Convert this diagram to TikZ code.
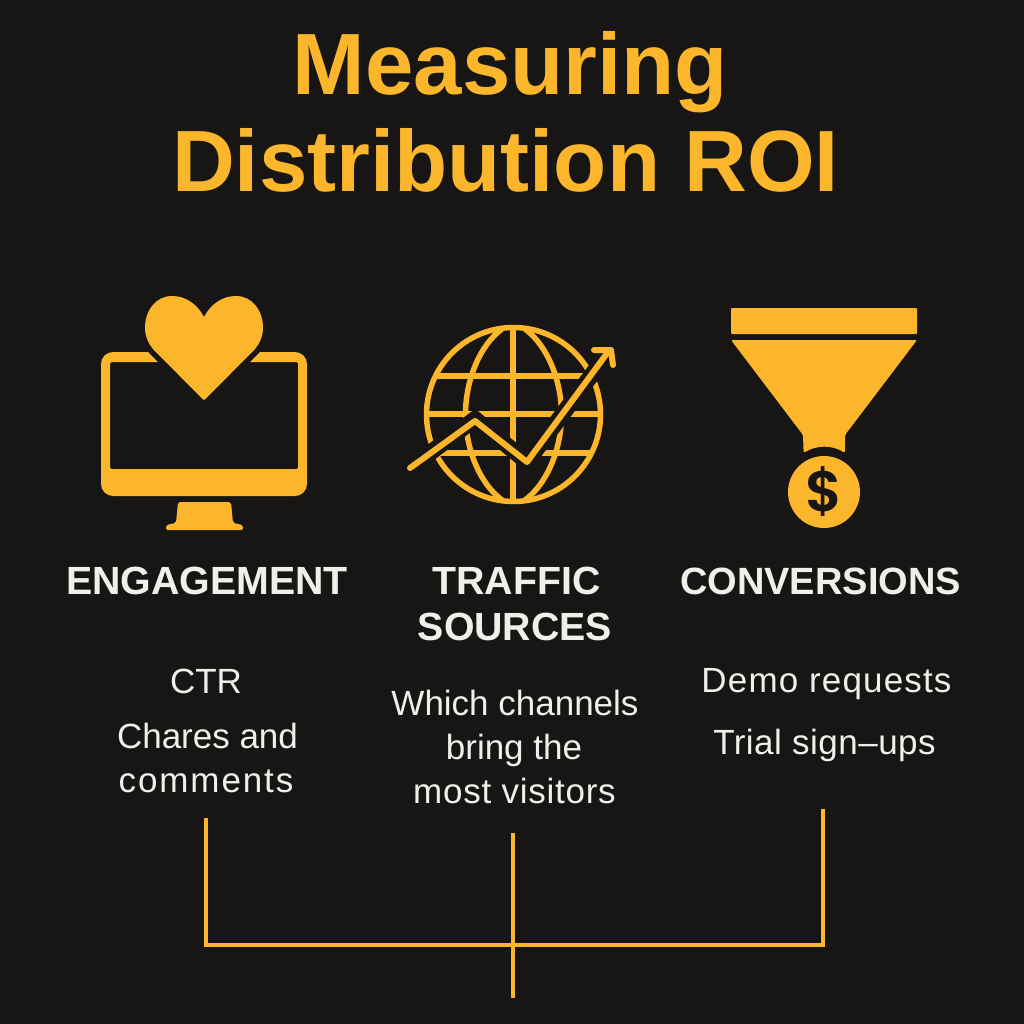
\documentclass[tikz,border=0pt]{standalone}
\usepackage{fontspec}
\setmainfont{Liberation Sans}
\newfontfamily\dollarf{Poppins SemiBold}
\definecolor{bgc}{HTML}{171614}
\definecolor{gold}{HTML}{FBB62B}
\definecolor{txt}{HTML}{F0EFEB}
\newcommand{\lsp}[2]{{\addfontfeature{LetterSpace=#1}#2}}
\tikzset{
 titletext/.style={text=gold,font=\bfseries\fontsize{87}{87}\selectfont,anchor=base,inner sep=0pt},
 headtext/.style={text=txt,font=\bfseries\fontsize{39.3}{39.3}\selectfont,anchor=base,inner sep=0pt},
 bodytext/.style={text=txt,font=\fontsize{35}{35}\selectfont,anchor=base,inner sep=0pt},
 halo/.style={draw=bgc,line width=#1},
 gline/.style={draw=gold,line width=5.5pt},
 conn/.style={draw=gold,line width=3.5pt},
}
\begin{document}
\begin{tikzpicture}[x=1pt,y=-1pt]
\useasboundingbox (0,0) rectangle (1024,1024);
\fill[bgc] (0,0) rectangle (1024,1024);
% title
\node[titletext] (t1) at (510.5,94.5) {Measuring};
\node[titletext] (t2) at (505.5,191.5) {Distribution ROI};
% monitor
\fill[gold,rounded corners=12pt,even odd rule] (101,352) rectangle (307,496)
  [rounded corners=1.5pt] (110,362) rectangle (298,469);
\fill[gold,rounded corners=2pt] (178,502) -- (231,502) -- (233,523) -- (243,525) -- (243,530) -- (166,530) -- (166,525) -- (176,523) -- cycle;
% heart
\def\heartpath{(204,317) .. controls (197,304) and (186,296) .. (172,296)
 .. controls (156,296) and (145,310) .. (145,328)
 .. controls (145,336) and (148,343) .. (153,349)
 -- (203,399.5) -- (205,399.5) -- (255,349)
 .. controls (260,343) and (263,336) .. (263,328)
 .. controls (263,310) and (252,296) .. (236,296)
 .. controls (222,296) and (211,304) .. (204,317) -- cycle}
\path[draw=bgc,line width=11pt] \heartpath;
\fill[gold] \heartpath;
% globe
\path[gline] (513.5,414.5) circle[radius=87];
\path[gline] (502,329) .. controls (480,345) and (465.5,380) .. (465.5,414.5) .. controls (465.5,449) and (480,484) .. (502,500);
\path[gline] (525,329) .. controls (547,345) and (561.5,380) .. (561.5,414.5) .. controls (561.5,449) and (547,484) .. (525,500);
\path[gline] (513,327) -- (513,502);
\path[gline] (436,376) -- (591,376);
\path[gline] (426,414) -- (601,414);
\path[gline] (436,453) -- (591,453);
\path[halo=16pt,line join=miter] (418,462) -- (475,419) -- (527,462) -- (605,357);
\path[gline,line width=6pt,line cap=round,line join=round] (410,468) -- (475,421) -- (527,462) -- (608,352);
\path[gline,line width=6pt,line cap=round,line join=round] (594,350) -- (611,350) -- (613,365);
% funnel
\fill[gold,rounded corners=1pt] (731,308) rectangle (917,334);
\fill[gold,rounded corners=1.5pt] (731,340) -- (917,340) -- (845,435) -- (845,453) arc[start angle=-57,end angle=-123,radius=38] -- (803,435) -- cycle;
\fill[gold] (824,492) circle[radius=36];
\node[text=bgc,inner sep=0pt,font=\dollarf\fontsize{57}{57}\selectfont] (dollar) at (824,492) {\$};
% headings
\node[headtext] (h1) at (207,594) {ENGAGEMENT};
\node[headtext] (h2a) at (516.5,594) {TRAFFIC};
\node[headtext] (h2b) at (515,640) {SOURCES};
\node[headtext,font=\bfseries\fontsize{38}{38}\selectfont] (h3) at (820.5,594) {CONVERSIONS};
% body
\node[bodytext] (b1) at (206,693) {CTR};
\node[bodytext] (b2) at (207.5,748) {Chares and};
\node[bodytext] (b3) at (206,792) {\lsp{5.4}{comments}};
\node[bodytext] (c1) at (515,715) {Which channels};
\node[bodytext] (c2) at (514,759) {bring the};
\node[bodytext] (c3) at (514.5,803) {\lsp{2.1}{most visitors}};
\node[bodytext] (d1) at (826.5,692) {\lsp{3.3}{Demo requests}};
\node[bodytext] (d2) at (824.5,754) {\lsp{1.4}{Trial sign–ups}};
% connectors
\coordinate (p1) at (206,818);
\coordinate (p2) at (823,809);
\coordinate (p3) at (513,833);
\coordinate (p4) at (513,998);
\coordinate (j) at (513,945);
\draw[conn,line join=miter] (p1) |- (j) -| (p2);
\draw[conn] (p3) -- (p4);
\end{tikzpicture}
\end{document}
